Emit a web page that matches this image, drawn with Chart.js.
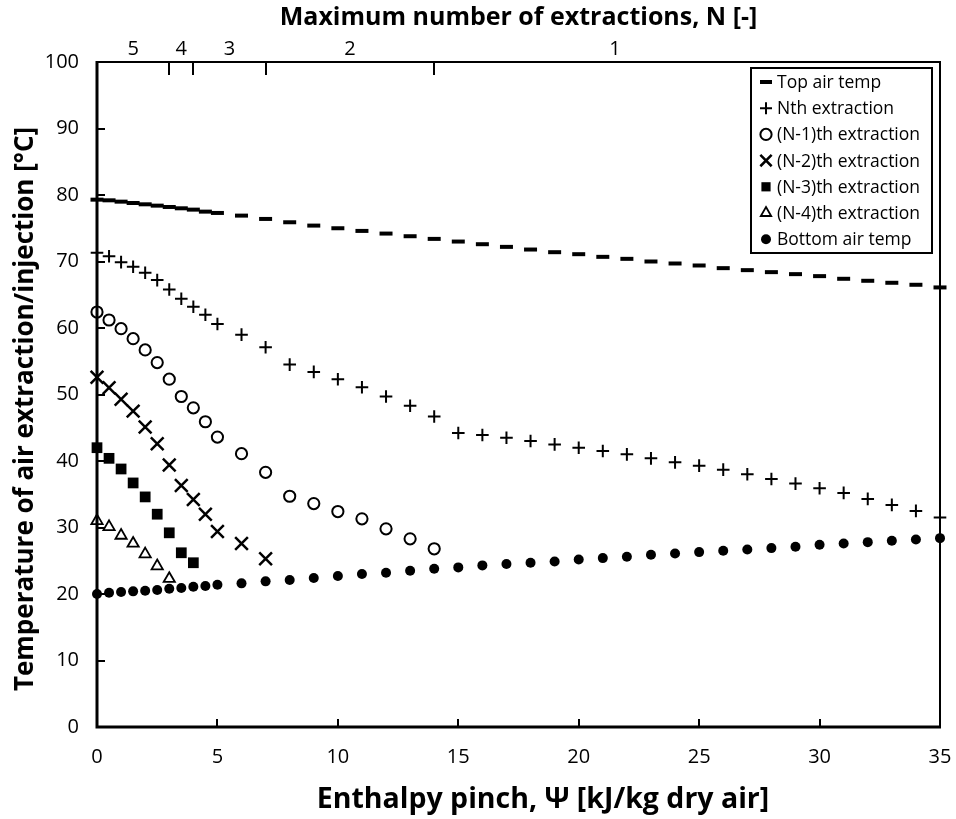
<!DOCTYPE html>
<html>
<head>
<meta charset="utf-8">
<script src="https://cdn.jsdelivr.net/npm/chart.js@4/dist/chart.umd.min.js"></script>
<style>
html,body{margin:0;padding:0;background:#fff}
canvas{display:block}
</style>
</head>
<body>
<canvas id="chart" width="956" height="819"></canvas>
<script>
// data
const psi=[0,0.5,1,1.5,2,2.5,3,3.5,4,4.5,5,6,7,8,9,10,11,12,13,14,15,16,17,18,19,20,21,22,23,24,25,26,27,28,29,30,31,32,33,34,35]

const topAir=[79.3,79.2,79.0,78.8,78.6,78.4,78.2,78.0,77.8,77.5,77.3,76.9,76.4,75.9,75.4,75.0,74.6,74.2,73.8,73.4,73.0,72.6,72.2,71.8,71.4,71.1,70.7,70.4,70.0,69.7,69.4,69.0,68.7,68.4,68.1,67.8,67.4,67.1,66.8,66.5,66.1]
const nth=[71.3,70.8,69.9,69.2,68.3,67.2,65.8,64.4,63.2,62.0,60.6,59.0,57.1,54.5,53.4,52.3,51.1,49.7,48.3,46.7,44.2,43.9,43.5,43.0,42.5,42.0,41.5,41.0,40.4,39.8,39.3,38.7,38.0,37.3,36.6,35.9,35.2,34.3,33.4,32.5,31.5]
const nm1=[62.4,61.2,59.9,58.4,56.7,54.8,52.3,49.7,48.0,45.9,43.6,41.1,38.3,34.7,33.6,32.4,31.3,29.8,28.3,26.8]
const nm2=[52.6,51.0,49.3,47.5,45.1,42.6,39.4,36.3,34.2,32.0,29.4,27.6,25.3]
const nm3=[42.0,40.4,38.8,36.7,34.6,32.0,29.2,26.2,24.7]
const nm4=[31.0,30.1,28.8,27.6,26.0,24.2,22.3]
const bottomAir=[20.0,20.2,20.3,20.4,20.5,20.6,20.8,20.9,21.1,21.2,21.4,21.6,21.9,22.1,22.4,22.7,23.0,23.2,23.5,23.8,24.0,24.3,24.5,24.7,24.9,25.2,25.4,25.6,25.9,26.1,26.3,26.5,26.7,26.9,27.1,27.4,27.6,27.8,28.0,28.2,28.4]

// top axis: N labels sit between the boundary ticks
const topLabels=["5","4","3","2","1"]
const topLabelPos=[1.5,3.5,5.5,10.5,21.5]
const topTickPos=[3,4,7,14]

const xTitle="Enthalpy pinch, Ψ [kJ/kg dry air]"
const yTitle="Temperature of air extraction/injection [°C]"
const topTitle="Maximum number of extractions, N [-]"

const FONT="'Open Sans', 'DejaVu Sans', sans-serif"

function pts(vals){
return vals.map((v,i)=>({x:psi[i],y:v}))
}

function series(label,vals,style,radius,width,fill){
return {
label:label,
data:pts(vals),
showLine:false,
pointStyle:style,
pointRadius:radius,
pointHoverRadius:radius,
pointBorderWidth:width,
pointBorderColor:"#000",
pointBackgroundColor:fill?"#000":"rgba(0,0,0,0)",
clip:false
}
}

const datasets=[
series("Top air temp",topAir,"line",6.5,4,true),
series("Nth extraction",nth,"cross",6.3,2,false),
series("(N-1)th extraction",nm1,"circle",5.6,2,false),
series("(N-2)th extraction",nm2,"crossRot",9,2.5,false),
series("(N-3)th extraction",nm3,"rect",7.6,0,true),
series("(N-4)th extraction",nm4,"triangle",6.5,1.8,false),
series("Bottom air temp",bottomAir,"circle",5,0,true)
]

// axis frame + inward tick marks
const frame={
id:"frame",
beforeDatasetsDraw(chart){
const c=chart.ctx
const a=chart.chartArea
const sx=chart.scales.x
const sy=chart.scales.y
c.save()
c.strokeStyle="#000"
c.lineCap="butt"

c.lineWidth=2
c.beginPath()
c.moveTo(a.left,a.top)
c.lineTo(a.right,a.top)
c.lineTo(a.right,a.bottom)
c.stroke()

c.lineWidth=3
c.beginPath()
c.moveTo(a.left,a.top-1)
c.lineTo(a.left,a.bottom)
c.lineTo(a.right+1,a.bottom)
c.stroke()

c.lineWidth=2
c.beginPath()
for(let v=10;v<100;v+=10){
const y=Math.round(sy.getPixelForValue(v))
c.moveTo(a.left,y)
c.lineTo(a.left+8,y)
}
for(let v=5;v<35;v+=5){
const x=Math.round(sx.getPixelForValue(v))
c.moveTo(x,a.bottom)
c.lineTo(x,a.bottom-8)
}
topTickPos.forEach(v=>{
const x=Math.round(sx.getPixelForValue(v))
c.moveTo(x,a.top)
c.lineTo(x,a.top+13)
})
c.stroke()
c.restore()
}
}

// boxed legend in the upper right of the plot, plus the two off-centre axis titles
const boxLegend={
id:"boxLegend",
afterDraw(chart){
const c=chart.ctx
const a=chart.chartArea
const w=181,h=185
const bx=a.right-8-w
const by=a.top+6
c.save()
c.fillStyle="#fff"
c.fillRect(bx,by,w,h)
c.strokeStyle="#000"
c.lineWidth=2
c.strokeRect(bx,by,w,h)
c.font="17.5px "+FONT
c.textBaseline="middle"
c.textAlign="left"
chart.data.datasets.forEach((ds,i)=>{
const y=by+14+i*26.2
const x=bx+15
let r=Math.min(ds.pointRadius,6)
if(ds.pointStyle==="crossRot") r=8
if(ds.pointStyle==="rect") r=6.5
c.fillStyle=ds.pointBackgroundColor
c.strokeStyle="#000"
c.lineWidth=ds.pointBorderWidth
Chart.helpers.drawPoint(c,{pointStyle:ds.pointStyle,radius:r,rotation:0,borderWidth:ds.pointBorderWidth},x,y)
c.fillStyle="#000"
c.fillText(ds.label,bx+26,y+1)
})

c.fillStyle="#000"
c.textAlign="center"
c.font="bold 28.5px "+FONT
c.fillText(xTitle,543,800)
c.translate(26,409)
c.rotate(-Math.PI/2)
c.font="bold 26px "+FONT
c.fillText(yTitle,0,0)
c.restore()
}
}

const tickFont={family:FONT,size:20}

const chart=new Chart(document.getElementById("chart"),{
type:"scatter",
data:{datasets:datasets},
options:{
responsive:false,
animation:false,
devicePixelRatio:1,
layout:{padding:0},
plugins:{legend:{display:false},tooltip:{enabled:false}},
scales:{
x:{
type:"linear",
position:"bottom",
min:0,
max:35,
ticks:{stepSize:5,padding:18,font:tickFont,color:"#000",maxRotation:0},
grid:{display:false,drawTicks:false},
border:{display:false},
afterFit(s){s.height=92;s.paddingRight=16;s.paddingLeft=0}
},
x2:{
type:"linear",
position:"top",
min:0,
max:35,
afterBuildTicks(s){s.ticks=topLabelPos.map(v=>({value:v}))},
ticks:{autoSkip:false,maxRotation:0,padding:1,font:tickFont,color:"#000",
callback:(v)=>topLabels[topLabelPos.indexOf(v)]},
grid:{display:false,drawTicks:false},
border:{display:false},
title:{display:true,text:topTitle,font:{family:FONT,size:25,weight:"bold"},color:"#000",padding:{top:3,bottom:0}},
afterFit(s){s.height=62;s.paddingRight=0;s.paddingLeft=0}
},
y:{
min:0,
max:100,
ticks:{stepSize:10,padding:18,font:tickFont,color:"#000"},
grid:{display:false,drawTicks:false},
border:{display:false},
afterFit(s){s.width=97}
}
}
},
plugins:[frame,boxLegend]
})
</script>
</body>
</html>
